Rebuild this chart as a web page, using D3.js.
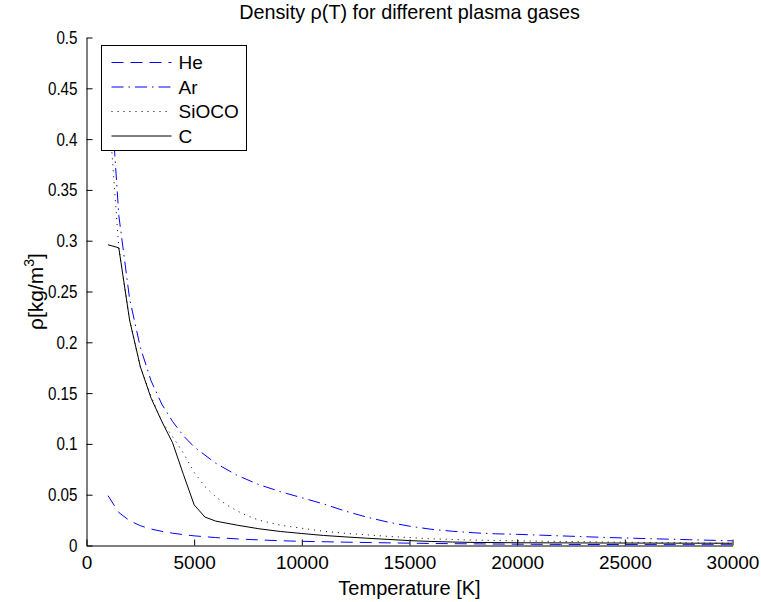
<!DOCTYPE html>
<html>
<head>
<meta charset="utf-8">
<script src="https://cdn.jsdelivr.net/npm/d3@7"></script>
<style>
  body { margin: 0; background: #fff; }
  svg { font-family: "Liberation Sans", Arial, sans-serif; }
  .axis path, .axis line { stroke: #000; }
  .axis text { font-size: 19px; fill: #000; }
</style>
</head>
<body>
<div class="density_plot"></div>
<script>
// temperatures [K] and densities [kg/m^3]
const heT   = [1000, 1500, 2000, 2500, 3000, 3500, 4000, 4500, 5000, 6000, 7000, 8000, 9000, 10000, 12000, 14000, 16000, 18000, 20000, 22000, 25000, 30000];
const heRho = [0.049, 0.0325, 0.0244, 0.0195, 0.0162, 0.0139, 0.0121, 0.0107, 0.0095, 0.0078, 0.0065, 0.0055, 0.0047, 0.0041, 0.0033, 0.0026, 0.002, 0.0016, 0.0013, 0.0011, 0.0009, 0.0007];

const arT   = [1000, 1500, 2000, 2500, 3000, 3500, 4000, 4500, 5000, 6000, 7000, 8000, 9000, 10000, 11000, 12000, 13000, 14000, 15000, 16000, 17000, 18000, 19000, 20000, 22000, 24000, 26000, 28000, 30000];
const arRho = [0.487, 0.325, 0.243, 0.195, 0.162, 0.139, 0.122, 0.108, 0.097, 0.081, 0.069, 0.060, 0.053, 0.047, 0.041, 0.034, 0.028, 0.023, 0.019, 0.016, 0.014, 0.0125, 0.0115, 0.011, 0.0095, 0.008, 0.0068, 0.0057, 0.0046];

const siT   = [1000, 1500, 2000, 2500, 3000, 3500, 4000, 4500, 5000, 5500, 6000, 6500, 7000, 7500, 8000, 9000, 10000, 11000, 12000, 13000, 14000, 16000, 18000, 20000, 22000, 25000, 30000];
const siRho = [0.44, 0.293, 0.222, 0.176, 0.147, 0.122, 0.107, 0.091, 0.072, 0.058, 0.048, 0.040, 0.034, 0.029, 0.025, 0.020, 0.017, 0.014, 0.012, 0.0105, 0.009, 0.0066, 0.0053, 0.0046, 0.004, 0.0032, 0.0022];

const cT    = [1000, 1500, 2000, 2500, 3000, 3500, 4000, 4500, 5000, 5500, 6000, 7000, 8000, 9000, 10000, 11000, 12000, 13000, 14000, 15000, 16000, 17000, 18000, 20000, 25000, 30000];
const cRho  = [0.296, 0.293, 0.222, 0.176, 0.145, 0.122, 0.101, 0.070, 0.040, 0.028, 0.024, 0.020, 0.0165, 0.0138, 0.0118, 0.0099, 0.0085, 0.0072, 0.006, 0.0048, 0.004, 0.0034, 0.003, 0.0027, 0.0024, 0.0022];

const gasNames = ['He', 'Ar', 'SiOCO', 'C'];
const xTicks = [0, 5000, 10000, 15000, 20000, 25000, 30000];
const yTicks = [0, 0.05, 0.1, 0.15, 0.2, 0.25, 0.3, 0.35, 0.4, 0.45, 0.5];

const series = [
  {name: gasNames[0], T: heT, rho: heRho, color: '#0000ff', dash: '12,7'},
  {name: gasNames[1], T: arT, rho: arRho, color: '#0000ff', dash: '12,5,1.5,5'},
  {name: gasNames[2], T: siT, rho: siRho, color: '#000', dash: '1,5'},
  {name: gasNames[3], T: cT,  rho: cRho,  color: '#000', dash: null}
];

const margin = {top: 37, right: 29, bottom: 57, left: 86};
const width = 761 - margin.left - margin.right,
      height = 602 - margin.top - margin.bottom;

const xScale = d3.scaleLinear().domain([0, 30000]).range([0, width]);
const yScale = d3.scaleLinear().domain([0, 0.5]).range([height, 0]);

const svg = d3.select('.density_plot')
              .append('svg')
              .attr('width', 761)
              .attr('height', 602)
              .append('g')
              .attr('transform', 'translate(' + (margin.left + 0.5) + ',' + (margin.top + 0.5) + ')');

svg.append('defs').append('clipPath').attr('id', 'clip')
   .append('rect').attr('width', width).attr('height', height);

const line = d3.line().x(d => xScale(d[0])).y(d => yScale(d[1]));

svg.append('g').attr('clip-path', 'url(#clip)')
   .selectAll('path')
   .data(series)
   .enter()
   .append('path')
   .attr('d', s => line(s.T.map((t, i) => [t, s.rho[i]])))
   .attr('fill', 'none')
   .attr('stroke', s => s.color)
   .attr('stroke-width', 1)
   .attr('stroke-dasharray', s => s.dash);

const xAxis = d3.axisBottom(xScale).tickValues(xTicks).tickSizeInner(-6).tickSizeOuter(0).tickPadding(10.5).tickFormat(d3.format('d'));
const yAxis = d3.axisLeft(yScale).tickValues(yTicks).tickSizeInner(-6).tickSizeOuter(0).tickPadding(9).tickFormat(d => d3.format('~g')(d));

svg.append('g')
   .attr('class', 'axis x-axis')
   .attr('transform', `translate(0, ${height})`)
   .call(xAxis);

// y tick labels are narrow in the original
svg.append('g')
   .attr('class', 'axis y-axis')
   .call(yAxis)
   .call(g => g.selectAll('text').attr('x', -9 / 0.8).attr('transform', 'scale(0.8,1)'));

// title and labels
svg.append('text')
   .attr('x', width / 2)
   .attr('y', -18.5)
   .attr('text-anchor', 'middle')
   .attr('font-size', 19.8)
   .text('Density ρ(T) for different plasma gases');

svg.append('text')
   .attr('x', width / 2)
   .attr('y', height + 49)
   .attr('text-anchor', 'middle')
   .attr('font-size', 20)
   .text('Temperature [K]');

const yLabel = svg.append('text')
   .attr('transform', `translate(-43.5, ${height / 2}) rotate(-90)`)
   .attr('text-anchor', 'middle')
   .attr('font-size', 21);
yLabel.append('tspan').text('ρ[kg/m');
yLabel.append('tspan').attr('font-size', 14).attr('dy', -9).text('3');
yLabel.append('tspan').attr('dy', 9).text(']');

// legend
const legend = svg.append('g').attr('transform', 'translate(15, 8)');
legend.append('rect')
      .attr('width', 145)
      .attr('height', 105)
      .attr('fill', '#fff')
      .attr('stroke', '#000');

const rows = legend.selectAll('.row')
                   .data(series)
                   .enter()
                   .append('g')
                   .attr('class', 'row')
                   .attr('transform', (d, i) => `translate(0, ${17 + i * 24.5})`);
rows.append('line')
    .attr('x1', 10).attr('x2', 70)
    .attr('stroke', d => d.color)
    .attr('stroke-dasharray', d => d.dash);
rows.append('text')
    .attr('x', 77)
    .attr('dy', '0.36em')
    .attr('font-size', 19)
    .text(d => d.name);
</script>
</body>
</html>
